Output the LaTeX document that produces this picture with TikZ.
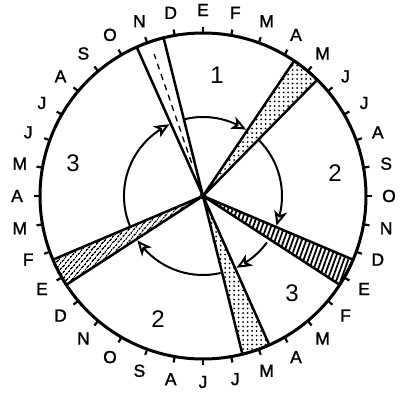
\documentclass[tikz,border=0pt]{standalone}
\usepackage{fontspec}
\setmainfont{Liberation Sans}
\newfontfamily\monfont[FakeBold=1.5]{Liberation Sans}
\usetikzlibrary{arrows.meta,bending,patterns.meta}
\begin{document}
\begin{tikzpicture}[x=1pt,y=1pt,
  rim/.style={line width=3pt},
  tickmark/.style={line width=2.2pt},
  wedge/.style={line width=2.5pt, line join=round, preaction={fill=white}},
  cyc/.style={line width=2pt, -{Stealth[open,length=15pt,width=13pt,line width=2pt,inset=4pt,bend]}},
  mon/.style={font=\monfont\fontsize{17.5}{17.5}\selectfont, inner sep=0pt},
  reg/.style={font=\fontsize{24}{24}\selectfont, inner sep=0pt},
]
\useasboundingbox (-203,-198) rectangle (198,196);
\coordinate (hub) at (0,0);
\def\R{163}
\def\r{79}
% inner cycle arcs
\draw[cyc] (203:\r) arc[start angle=203,end angle=115,radius=\r];
\draw[cyc] (104:\r) arc[start angle=104,end angle=57,radius=\r];
\draw[cyc] (45:\r) arc[start angle=45,end angle=-22,radius=\r];
\draw[cyc] (-36:\r) arc[start angle=-36,end angle=-65,radius=\r];
\draw[cyc] (-77:\r) arc[start angle=-77,end angle=-146,radius=\r];
% wedges
\draw[wedge] (hub) -- (104:\R) arc[start angle=104,end angle=114,radius=\R] -- cycle;
\draw[line width=1.3pt, dash pattern=on 6pt off 5pt] (109:35) -- (109:150);
\draw[wedge, pattern={Dots[distance=4.5pt,radius=1pt]}] (hub) -- (45.5:\R) arc[start angle=45.5,end angle=56,radius=\R] -- cycle;
\draw[wedge, pattern={Lines[angle=70,distance=4.2pt,line width=1.8pt]}] (hub) -- (-33:\R) arc[start angle=-33,end angle=-23,radius=\R] -- cycle;
\draw[wedge, pattern={Dots[distance=4.5pt,radius=1pt]}] (hub) -- (-76:\R) arc[start angle=-76,end angle=-66,radius=\R] -- cycle;
\draw[wedge, pattern={Lines[angle=50,distance=4pt,line width=1.6pt]}] (hub) -- (203:\R) arc[start angle=203,end angle=213,radius=\R] -- cycle;
\fill (hub) circle (3.5);
% rim, ticks and months
\draw[rim] (hub) circle (\R);
\foreach \m [count=\k from 0] in {E,F,M,A,M,J,J,A,S,O,N,D,E,F,M,A,M,J,J,A,S,O,N,D,E,F,M,A,M,J,J,A,S,O,N,D}{
  \draw[tickmark] ({90-10*\k}:\R) -- ({90-10*\k}:{\R+6});
  \node[mon] (m\k) at ({90-10*\k}:186) {\m};
}
% region numbers
\node[reg] (r1) at (14,121) {1};
\node[reg] (r2a) at (132,23) {2};
\node[reg] (r3a) at (-130,33) {3};
\node[reg] (r2b) at (-45,-123) {2};
\node[reg] (r3b) at (89,-97) {3};
\end{tikzpicture}
\end{document}
